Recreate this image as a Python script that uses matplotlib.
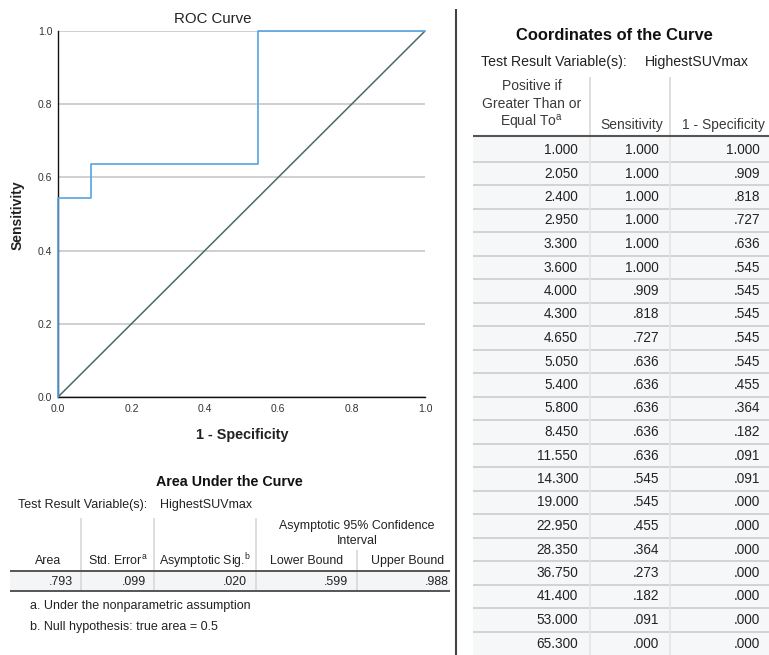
import matplotlib
matplotlib.use("Agg")
import matplotlib.pyplot as plt
from matplotlib.lines import Line2D
from matplotlib.patches import Rectangle

plt.rcParams['font.family'] = ['Liberation Sans', 'DejaVu Sans']

# ---------------- data ----------------
thresholds = [1.000, 2.050, 2.400, 2.950, 3.300, 3.600, 4.000, 4.300, 4.650, 5.050, 5.400,
              5.800, 8.450, 11.550, 14.300, 19.000, 22.950, 28.350, 36.750, 41.400, 53.000, 65.300]
sensitivity = [1.000, 1.000, 1.000, 1.000, 1.000, 1.000, .909, .818, .727, .636, .636,
               .636, .636, .636, .545, .545, .455, .364, .273, .182, .091, .000]
one_minus_spec = [1.000, .909, .818, .727, .636, .545, .545, .545, .545, .545, .455,
                  .364, .182, .091, .091, .000, .000, .000, .000, .000, .000, .000]

auc_headers = ["Area", "Std. Error$^{\\mathregular{a}}$", "Asymptotic Sig.$^{\\mathregular{b}}$", "Lower Bound", "Upper Bound"]
auc_values = [.793, .099, .020, .599, .988]

roc_ticks = [0.0, 0.2, 0.4, 0.6, 0.8, 1.0]

W, H = 769, 655
fig = plt.figure(figsize=(W / 100, H / 100), dpi=100)


def fx(x):
    return x / W


def fy(y):
    return 1 - y / H


def fmt(v):
    s = f"{v:.3f}"
    if s.startswith("0"):
        s = s[1:]
    return s


def hline(x0, x1, y, color, lw):
    fig.add_artist(Line2D([fx(x0), fx(x1)], [fy(y), fy(y)], color=color, lw=lw,
                          transform=fig.transFigure, solid_capstyle='butt'))


def vline(x, y0, y1, color, lw):
    fig.add_artist(Line2D([fx(x), fx(x)], [fy(y0), fy(y1)], color=color, lw=lw,
                          transform=fig.transFigure, solid_capstyle='butt'))


def rect(x0, y0, x1, y1, color):
    fig.add_artist(Rectangle((fx(x0), fy(y1)), fx(x1) - fx(x0), fy(y0) - fy(y1),
                             transform=fig.transFigure, facecolor=color, edgecolor='none'))


def text(x, y, s, size, ha='left', weight='normal', color='#222222', **kw):
    fig.text(fx(x), fy(y), s, fontsize=size, ha=ha, va='center', weight=weight, color=color, **kw)


# ---------------- ROC plot ----------------
ax = fig.add_axes([fx(58), fy(397), fx(425) - fx(58), fy(31) - fy(397)])
ax.set_xlim(0, 1)
ax.set_ylim(0, 1)
ax.set_xticks(roc_ticks)
ax.set_yticks(roc_ticks)
ax.set_xticklabels([f"{t:.1f}" for t in roc_ticks])
ax.set_yticklabels([f"{t:.1f}" for t in roc_ticks])
ax.tick_params(length=0, labelsize=7.5, labelcolor='#333333')
ax.tick_params(axis='y', pad=4)
ax.tick_params(axis='x', pad=5)
ax.yaxis.grid(True, color='#cfcfcf', lw=1.4)
ax.set_axisbelow(True)
for s in ['top', 'right']:
    ax.spines[s].set_visible(False)
for s in ['left', 'bottom']:
    ax.spines[s].set_color('#111111')
    ax.spines[s].set_linewidth(1.0)
ax.plot([0, 1], [0, 1], color='#476b6b', lw=1.1, zorder=3)
ax.plot(one_minus_spec[::-1], sensitivity[::-1], color='#55a3e3', lw=1.2, zorder=4, clip_on=False)

text(213, 19, "ROC Curve", 10.8, ha='center', color='#222222')
text(242, 435, "1 - Specificity", 10.4, ha='center', weight='bold', color='#222222')
fig.text(fx(18), fy(215), "Sensitivity", fontsize=10, ha='center', va='center', rotation=90,
         weight='bold', color='#222222')

# ---------------- Divider ----------------
vline(455.5, 9, 655, '#444444', 1.5)

# ---------------- AUC table ----------------
text(229, 482, "Area Under the Curve", 10.3, ha='center', weight='bold', color='#111111')
text(18, 505, "Test Result Variable(s):", 9)
text(160, 505, "HighestSUVmax", 9)

col_seps = [81, 154, 256]
for x in col_seps:
    vline(x, 518, 590, '#d8d8d8', 1.2)
vline(357, 550, 590, '#d8d8d8', 1.2)

rect(10, 572, 450, 590, '#f4f5f7')
hline(10, 450, 571, '#555555', 1.4)
hline(10, 450, 591, '#555555', 1.4)

text(357, 526, "Asymptotic 95% Confidence", 8.9, ha='center')
text(357, 541, "Interval", 8.9, ha='center')
hdr_x = [48, 118, 205, 307, 408]
for x, h in zip(hdr_x, auc_headers):
    text(x, 561, h, 8.9, ha='center')
val_right = [73, 146, 247, 348, 449]
for x, v in zip(val_right, auc_values):
    text(x, 582, fmt(v), 8.9, ha='right')

text(30, 606, "a. Under the nonparametric assumption", 9)
text(30, 627, "b. Null hypothesis: true area = 0.5", 9)

# ---------------- Coordinates table ----------------
text(614, 36, "Coordinates of the Curve", 11.9, ha='center', weight='bold', color='#111111')
text(481, 62, "Test Result Variable(s):", 10.2)
text(645, 62, "HighestSUVmax", 10.2)

row0 = 150
rh = 23.5
tx0, tx1 = 473, 769
rect(tx0, 137, tx1, 655, '#f6f7f9')
for i in range(1, len(thresholds)):
    yy = row0 + (i - 0.5) * rh
    hline(tx0, tx1, yy, '#d2d2d2', 1.4)
for x in [590, 670]:
    vline(x, 77, 135, '#d8d8d8', 1.2)
    vline(x, 137, 655, '#e4e4e4', 1.2)
hline(tx0, tx1, 135.5, '#555555', 1.5)

hc = '#3a3a3a'
text(532, 86, "Positive if", 10, ha='center', color=hc)
text(532, 104, "Greater Than or", 10, ha='center', color=hc)
text(532, 122, "Equal To$^{\\mathregular{a}}$", 10, ha='center', color=hc)
text(632, 125, "Sensitivity", 10, ha='center', color=hc)
text(723, 125, "1 - Specificity", 10, ha='center', color=hc)

for i, (t, s, f) in enumerate(zip(thresholds, sensitivity, one_minus_spec)):
    yy = row0 + i * rh
    text(578, yy, f"{t:.3f}", 9.8, ha='right')
    text(659, yy, fmt(s), 9.8, ha='right')
    text(760, yy, fmt(f), 9.8, ha='right')

fig.savefig("out.png", dpi=100)
